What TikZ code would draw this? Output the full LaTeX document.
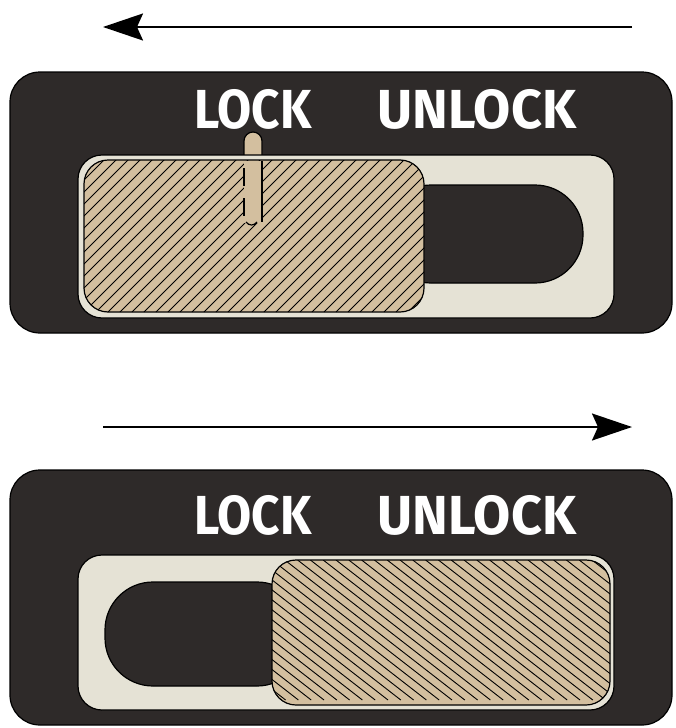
\documentclass[tikz,border=0pt]{standalone}
\usepackage{fontspec}
\newfontfamily\lblfont{Fira Sans}
\usetikzlibrary{arrows.meta}
\definecolor{panel}{HTML}{2E2A29}
\definecolor{cream}{HTML}{E5E2D5}
\definecolor{tan}{HTML}{D3BF9F}
\tikzset{
  panelbox/.style={draw=black, line width=1.2pt, fill=panel, rounded corners=30pt, inner sep=0pt},
  trackbox/.style={draw=black, line width=1.2pt, fill=cream, rounded corners=24pt, inner sep=0pt},
  slotbox/.style={draw=black, line width=1.2pt, fill=panel, rounded corners=48pt, inner sep=0pt},
  knobbox/.style={draw=black, line width=1.2pt, fill=tan, rounded corners=24pt, inner sep=0pt},
  hatch/.style={black, line width=0.9pt},
  pinline/.style={black, line width=1.2pt},
  lbl/.style={text=white, font=\lblfont\bfseries\fontsize{55}{55}\selectfont, inner sep=0pt},
  arr/.style={line width=2pt, -{Stealth[length=40pt,width=27pt,inset=6pt]}},
}
\newcommand{\lbltext}[2]{\scalebox{#1}[1]{#2}}
\begin{document}
\begin{tikzpicture}[x=1pt,y=-1pt]
\useasboundingbox (0,0) rectangle (675,728);
% arrows
\coordinate (a1s) at (632,27);
\coordinate (a1e) at (103,27);
\draw[arr] (a1s) -- (a1e);
\coordinate (a2s) at (103,427);
\coordinate (a2e) at (632,427);
\draw[arr] (a2s) -- (a2e);
% top panel
\node[panelbox, minimum width=662pt, minimum height=261pt] (p1) at (341,202.5) {};
\node[lbl] (lock1) at (253,109) {\lbltext{0.9}{LOCK}};
\node[lbl] (unlock1) at (477,109) {\lbltext{0.98}{UNLOCK}};
% pin (upper part, behind the track)
\filldraw[pinline, fill=tan] (244,170) -- (244,141) arc[start angle=180, end angle=360, radius=9] -- (262,170) -- cycle;
\node[trackbox, minimum width=536pt, minimum height=163pt] (t1) at (346,236.5) {};
\node[slotbox, minimum width=200pt, minimum height=98pt] (s1) at (483,234) {};
\node[knobbox, minimum width=340pt, minimum height=152pt,
  path picture={\foreach \i in {-16,...,34}
    \draw[hatch] ([xshift=\i*12pt]path picture bounding box.south west) -- ++(180pt,180pt);}
  ] (k1) at (254,236) {};
% pin (lower part, over the knob)
\fill[tan] (244,161) rectangle (262,223);
\draw[pinline] (244,168) -- (244,186);
\draw[pinline] (244,198) -- (244,216);
\draw[pinline] (262,161) -- (262,222);
\draw[pinline] (246,222) .. controls (249,226) and (254,226) .. (257,222);
% bottom panel
\node[panelbox, minimum width=662pt, minimum height=255pt] (p2) at (341,597.5) {};
\node[lbl] (lock2) at (253,515) {\lbltext{0.9}{LOCK}};
\node[lbl] (unlock2) at (477,515) {\lbltext{0.98}{UNLOCK}};
\node[trackbox, minimum width=536pt, minimum height=155pt] (t2) at (346,632.5) {};
\node[slotbox, minimum width=200pt, minimum height=104pt] (s2) at (205,634) {};
\node[knobbox, minimum width=338pt, minimum height=145pt,
  path picture={\foreach \i in {-16,...,40}
    \draw[hatch] ([xshift=\i*12.8pt]path picture bounding box.north west) -- ++(180pt,-140pt);}
  ] (k2) at (441,632.5) {};
\end{tikzpicture}
\end{document}
